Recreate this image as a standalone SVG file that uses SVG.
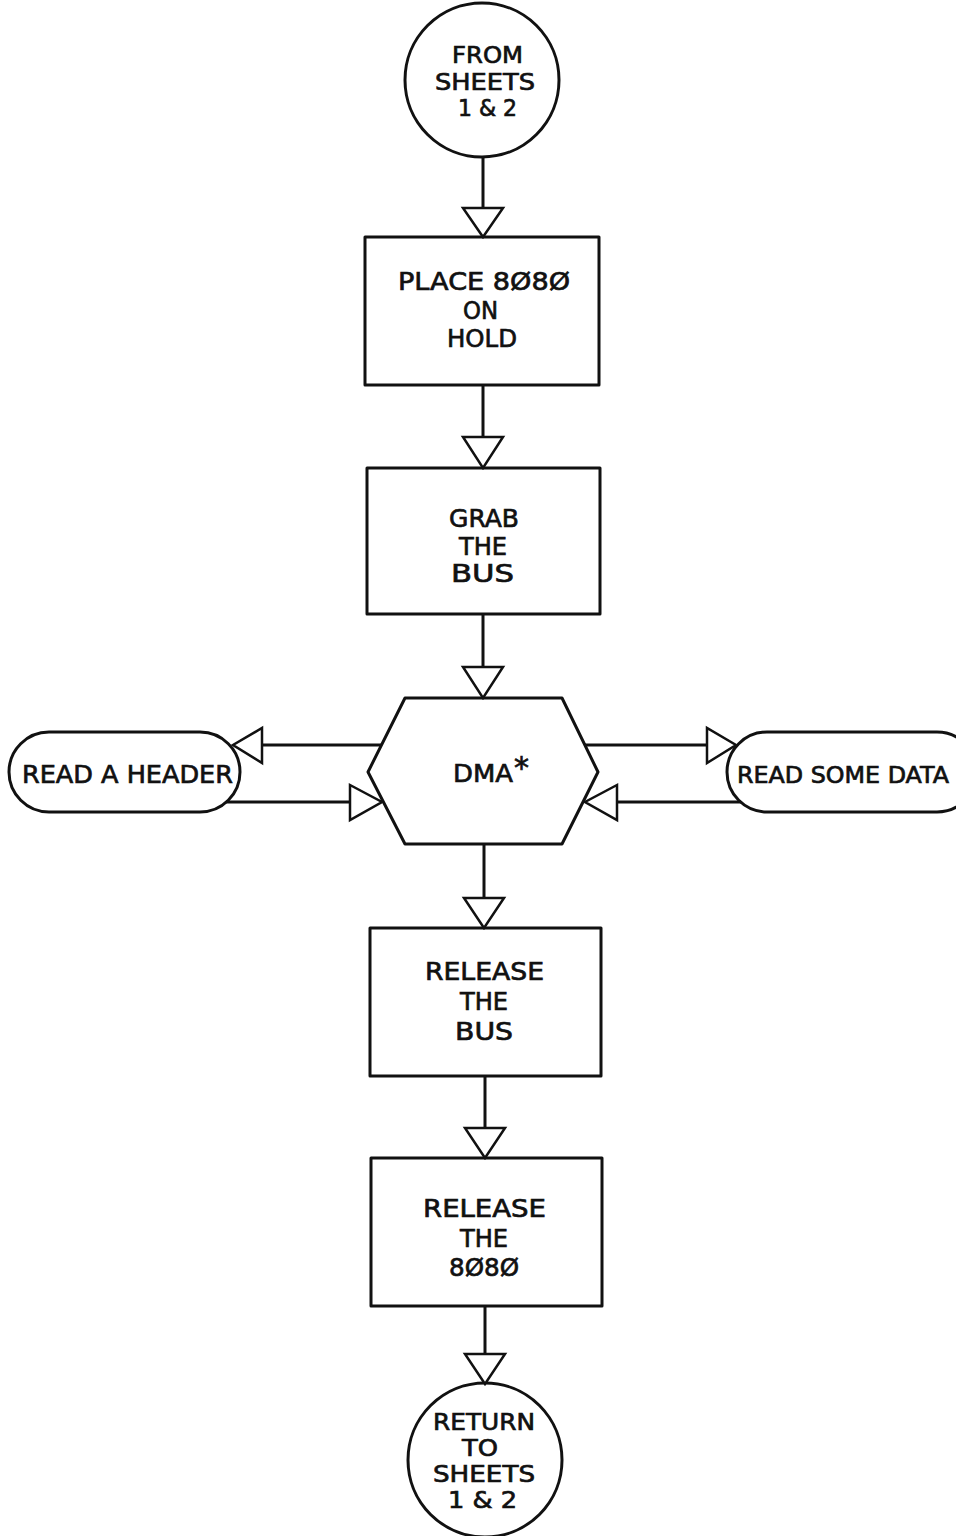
<svg xmlns="http://www.w3.org/2000/svg" width="956" height="1536" viewBox="0 0 956 1536">
<style>
.s{fill:#fff;stroke:#111;stroke-width:3;stroke-linejoin:round}
.l{fill:none;stroke:#111;stroke-width:3}
.a{fill:#fff;stroke:#111;stroke-width:2.5;stroke-linejoin:miter}
text{font-family:"DejaVu Sans","Liberation Sans",sans-serif;font-size:25px;fill:#111;stroke:#111;stroke-width:0.7}
.c{font-size:23px}
</style>
<rect width="956" height="1536" fill="#fff"/>
<g id="start">
<circle class="s" cx="482" cy="80" r="77"/>
<text class="c" x="452" y="63" textLength="71" lengthAdjust="spacingAndGlyphs">FROM</text>
<text class="c" x="435" y="90" textLength="100" lengthAdjust="spacingAndGlyphs">SHEETS</text>
<text class="c" x="458" y="116" textLength="59" lengthAdjust="spacingAndGlyphs">1 &amp; 2</text>
</g>
<g id="hold">
<rect class="s" x="365" y="237" width="234" height="148"/>
<text x="398" y="290" textLength="172" lengthAdjust="spacingAndGlyphs">PLACE 8Ø8Ø</text>
<text x="463" y="319" textLength="35" lengthAdjust="spacingAndGlyphs">ON</text>
<text x="447" y="347" textLength="70" lengthAdjust="spacingAndGlyphs">HOLD</text>
</g>
<g id="grab">
<rect class="s" x="367" y="468" width="233" height="146"/>
<text x="449" y="527" textLength="70" lengthAdjust="spacingAndGlyphs">GRAB</text>
<text x="459" y="555" textLength="48" lengthAdjust="spacingAndGlyphs">THE</text>
<text x="451" y="582" textLength="63" lengthAdjust="spacingAndGlyphs">BUS</text>
</g>
<g id="dma">
<polygon class="s" points="405,698 562,698 598,772 562,844 405,844 368,772"/>
<text x="453" y="782" textLength="60" lengthAdjust="spacingAndGlyphs">DMA</text>
<text x="514" y="778" style="font-size:30px">*</text>
</g>
<g id="header">
<rect class="s" x="9" y="732" width="231" height="80" rx="40" ry="40"/>
<text x="22" y="783" textLength="211" lengthAdjust="spacingAndGlyphs">READ A HEADER</text>
</g>
<g id="data">
<rect class="s" x="727" y="732" width="250" height="80" rx="40" ry="40"/>
<text x="737" y="783" style="font-size:23px" textLength="212" lengthAdjust="spacingAndGlyphs">READ SOME DATA</text>
</g>
<g id="relbus">
<rect class="s" x="370" y="928" width="231" height="148"/>
<text x="425" y="980" textLength="119" lengthAdjust="spacingAndGlyphs">RELEASE</text>
<text x="460" y="1010" textLength="48" lengthAdjust="spacingAndGlyphs">THE</text>
<text x="455" y="1040" textLength="58" lengthAdjust="spacingAndGlyphs">BUS</text>
</g>
<g id="rel8080">
<rect class="s" x="371" y="1158" width="231" height="148"/>
<text x="423" y="1217" textLength="123" lengthAdjust="spacingAndGlyphs">RELEASE</text>
<text x="460" y="1247" textLength="48" lengthAdjust="spacingAndGlyphs">THE</text>
<text x="449" y="1276" textLength="70" lengthAdjust="spacingAndGlyphs">8Ø8Ø</text>
</g>
<g id="end">
<circle class="s" cx="485" cy="1460" r="77"/>
<text class="c" x="433" y="1430" textLength="102" lengthAdjust="spacingAndGlyphs">RETURN</text>
<text class="c" x="462" y="1456" textLength="36" lengthAdjust="spacingAndGlyphs">TO</text>
<text class="c" x="433" y="1482" textLength="102" lengthAdjust="spacingAndGlyphs">SHEETS</text>
<text class="c" x="448" y="1508" textLength="69" lengthAdjust="spacingAndGlyphs">1 &amp; 2</text>
</g>
<g id="connectors">
<line class="l" x1="483" y1="157" x2="483" y2="208"/>
<polygon class="a" points="463,208 503,208 483,237"/>
<line class="l" x1="483" y1="385" x2="483" y2="437"/>
<polygon class="a" points="463,437 503,437 483,468"/>
<line class="l" x1="483" y1="614" x2="483" y2="667"/>
<polygon class="a" points="463,667 503,667 483,698"/>
<line class="l" x1="484" y1="844" x2="484" y2="898"/>
<polygon class="a" points="464,898 504,898 484,928"/>
<line class="l" x1="485" y1="1076" x2="485" y2="1128"/>
<polygon class="a" points="465,1128 505,1128 485,1158"/>
<line class="l" x1="485" y1="1306" x2="485" y2="1354"/>
<polygon class="a" points="465,1354 505,1354 485,1384"/>
<line class="l" x1="381" y1="745" x2="262" y2="745"/>
<polygon class="a" points="262,728 262,763 233,745"/>
<line class="l" x1="226" y1="802" x2="350" y2="802"/>
<polygon class="a" points="350,785 350,820 382,802"/>
<line class="l" x1="585" y1="745" x2="707" y2="745"/>
<polygon class="a" points="707,728 707,763 736,745"/>
<line class="l" x1="741" y1="802" x2="617" y2="802"/>
<polygon class="a" points="617,785 617,820 585,802"/>
</g>
</svg>
